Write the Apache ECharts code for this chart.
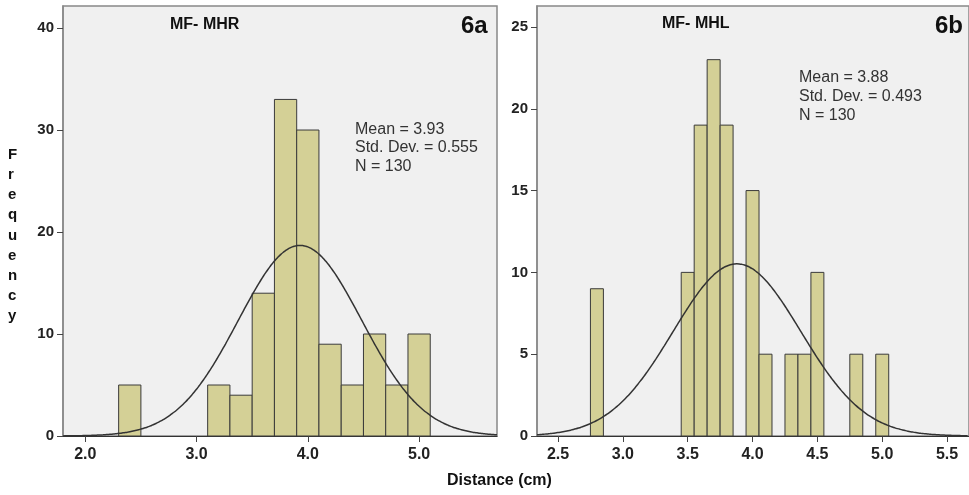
<!DOCTYPE html>
<html>
<head>
<meta charset="utf-8">
<title>MF- MHR / MF- MHL</title>
<script src="https://cdn.jsdelivr.net/npm/echarts@6/dist/echarts.min.js"></script>
<style>
  html, body { margin: 0; padding: 0; background: #fff; }
  #chart { width: 969px; height: 495px; }
</style>
</head>
<body>
<div id="chart"></div>
<script>
// 6a: MF- MHR, bins of 0.2 cm (left edge of each bin)
const binStartA = [2.3, 3.1, 3.3, 3.5, 3.7, 3.9, 4.1, 4.3, 4.5, 4.7, 4.9];
const countsA = [5, 5, 4, 14, 33, 30, 9, 5, 10, 5, 10];
const binWidthA = 0.2;
const statsA = { mean: 3.93, sd: 0.555, n: 130 };
const xTicksA = [2, 3, 4, 5];
const yTicksA = [0, 10, 20, 30, 40];

// 6b: MF- MHL, bins of 0.1 cm
const binStartB = [2.75, 3.45, 3.55, 3.65, 3.75, 3.95, 4.05, 4.25, 4.35, 4.45, 4.75, 4.95];
const countsB = [9, 10, 19, 23, 19, 15, 5, 5, 5, 10, 5, 5];
const binWidthB = 0.1;
const statsB = { mean: 3.88, sd: 0.493, n: 130 };
const xTicksB = [2.5, 3.0, 3.5, 4.0, 4.5, 5.0, 5.5];
const yTicksB = [0, 5, 10, 15, 20, 25];

const FONT = '"Liberation Sans", Arial, sans-serif';
const BAR_FILL = '#d4d096';
const TXT = '#222';

// x轴范围
const X_A = [1.8, 5.7];
const X_B = [2.338, 5.669];

// 柱状数据 [起点, 终点, 频数]
const toBins = (starts, counts, w) => starts.map((s, i) => [s, +(s + w).toFixed(2), counts[i]]);

// 正态曲线，由均值/标准差/N算出
const normalCurve = (st, w, min, max) => {
  const pts = [];
  const k = st.n * w / (st.sd * Math.sqrt(2 * Math.PI));
  for (let x = min; x <= max + 1e-9; x += 0.02) {
    pts.push([x, k * Math.exp(-((x - st.mean) ** 2) / (2 * st.sd * st.sd))]);
  }
  return pts;
};

const renderBin = (params, api) => {
  const p0 = api.coord([api.value(0), api.value(2)]);
  const p1 = api.coord([api.value(1), 0]);
  return {
    type: 'rect',
    shape: { x: p0[0], y: p0[1], width: p1[0] - p0[0], height: p1[1] - p0[1] },
    style: { fill: BAR_FILL, stroke: '#3a3a3a', lineWidth: 1 }
  };
};

const xAxisOf = (idx, range, ticks) => ({
  type: 'value', gridIndex: idx, min: range[0], max: range[1],
  axisLine: { show: true, onZero: false, lineStyle: { color: '#333', width: 1 } },
  axisTick: { show: true, customValues: ticks, length: 6, lineStyle: { color: '#444' } },
  axisLabel: {
    customValues: ticks, margin: 11, color: TXT, fontFamily: FONT, fontSize: 16, fontWeight: 'bold',
    formatter: v => v.toFixed(1)
  },
  splitLine: { show: false }
});

const yAxisOf = (idx, max, ticks) => ({
  type: 'value', gridIndex: idx, min: 0, max: max,
  axisLine: { show: true, lineStyle: { color: '#888', width: 1.5 } },
  axisTick: { show: true, customValues: ticks, length: 6, lineStyle: { color: '#444' } },
  axisLabel: {
    customValues: ticks, margin: 9, color: TXT, fontFamily: FONT, fontSize: 15, fontWeight: 'bold'
  },
  splitLine: { show: false }
});

const statText = (st, x, y, gap) => ({
  type: 'text', left: x, top: y,
  style: {
    text: 'Mean = ' + st.mean.toFixed(2) + '\nStd. Dev. = ' + st.sd.toFixed(3) + '\nN = ' + st.n,
    font: '16px ' + FONT, fill: '#333', lineHeight: gap
  }
});

const titleText = (t, x, y, size) => ({
  type: 'text', left: x, top: y,
  style: { text: t, font: 'bold ' + size + 'px ' + FONT, fill: '#111' }
});

const chart = echarts.init(document.getElementById('chart'));

const option = {
  backgroundColor: '#fff',
  animation: false,
  grid: [
    { left: 63, top: 6, width: 434, height: 430, show: true, backgroundColor: '#f0f0f0', borderColor: '#888', borderWidth: 1.5 },
    { left: 537, top: 6, width: 433, height: 430, show: true, backgroundColor: '#f0f0f0', borderColor: '#888', borderWidth: 1.5 }
  ],
  xAxis: [
    xAxisOf(0, X_A, xTicksA),
    xAxisOf(1, X_B, xTicksB)
  ],
  yAxis: [
    yAxisOf(0, 42.16, yTicksA),
    yAxisOf(1, 26.28, yTicksB)
  ],
  series: [
    {
      type: 'custom', xAxisIndex: 0, yAxisIndex: 0,
      renderItem: renderBin, data: toBins(binStartA, countsA, binWidthA)
    },
    {
      type: 'custom', xAxisIndex: 1, yAxisIndex: 1,
      renderItem: renderBin, data: toBins(binStartB, countsB, binWidthB)
    },
    {
      type: 'line', xAxisIndex: 0, yAxisIndex: 0, showSymbol: false, smooth: true,
      lineStyle: { color: '#333', width: 1.5 },
      data: normalCurve(statsA, binWidthA, X_A[0], X_A[1])
    },
    {
      type: 'line', xAxisIndex: 1, yAxisIndex: 1, showSymbol: false, smooth: true,
      lineStyle: { color: '#333', width: 1.5 },
      data: normalCurve(statsB, binWidthB, X_B[0], X_B[1])
    }
  ],
  graphic: [
    titleText('MF- MHR', 170, 17, 16),
    titleText('6a', 461, 14, 24),
    statText(statsA, 355, 120, 18.5),
    titleText('MF- MHL', 662, 16, 16),
    titleText('6b', 935, 14, 24),
    statText(statsB, 799, 68, 19),
    {
      type: 'text', left: 8, top: 145,
      style: {
        text: 'Frequency'.split('').join('\n'), font: 'bold 15px ' + FONT,
        fill: '#111', lineHeight: 20.1, align: 'center', width: 14
      }
    },
    {
      type: 'text', left: 447, top: 473,
      style: { text: 'Distance (cm)', font: 'bold 16px ' + FONT, fill: '#111' }
    }
  ]
};

chart.setOption(option);
</script>
</body>
</html>
